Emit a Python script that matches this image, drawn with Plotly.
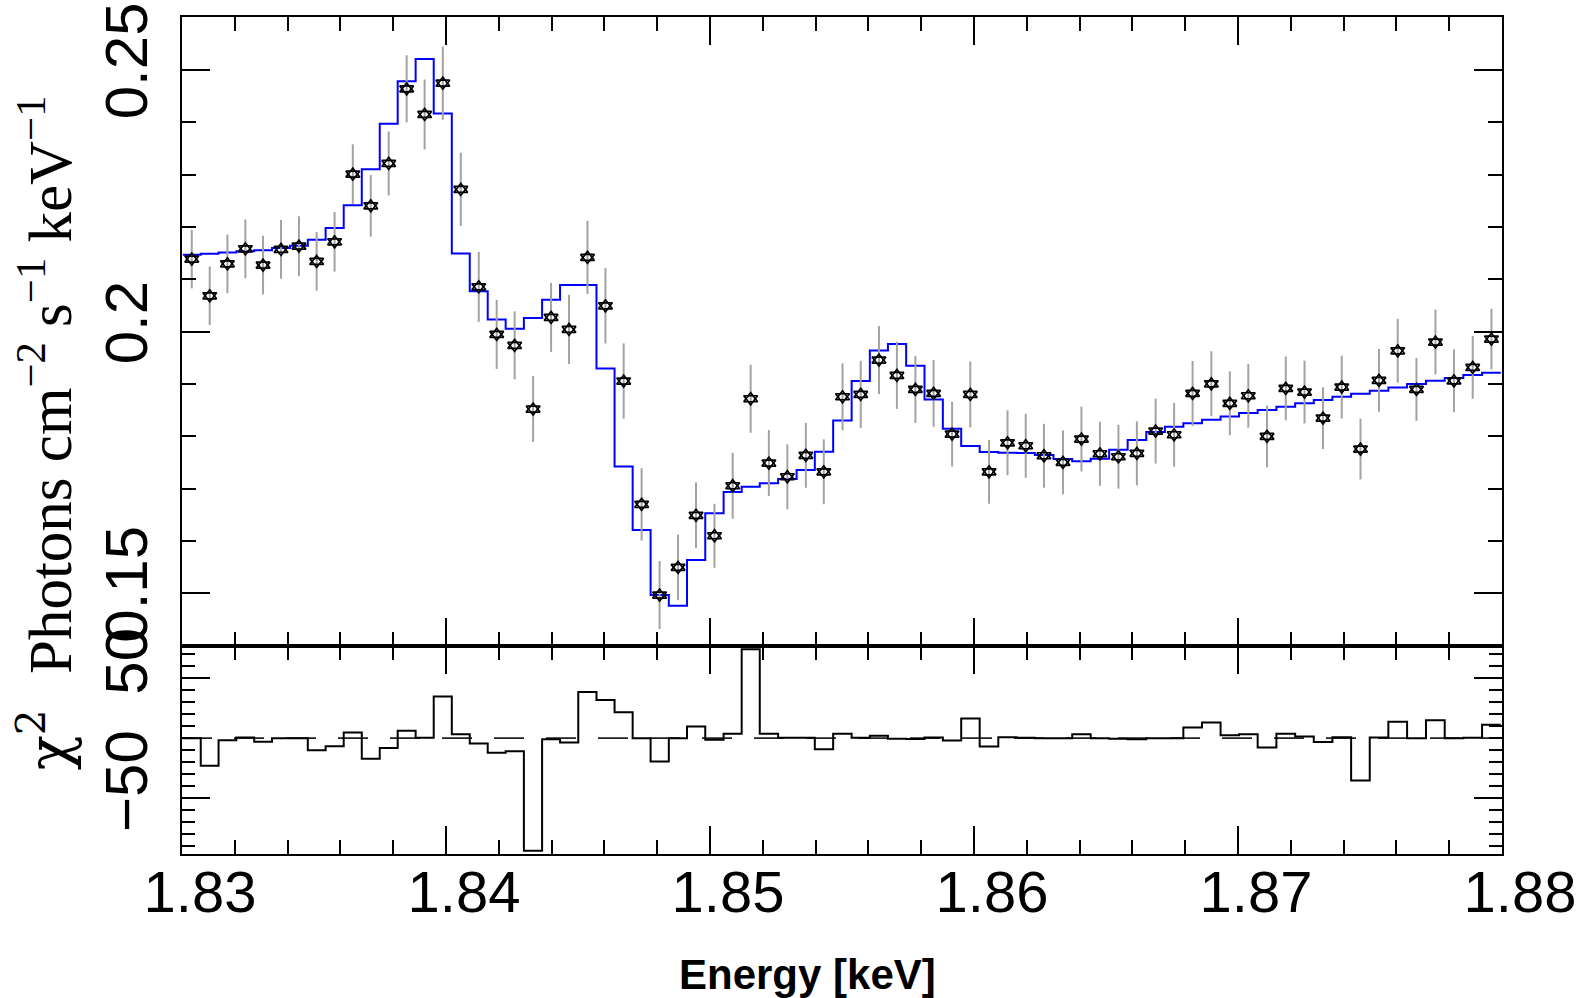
import plotly.graph_objects as go

# ---------------- data ----------------
energy = [
    1.83037, 1.83105, 1.83172, 1.83240, 1.83307, 1.83375, 1.83443, 1.83510, 1.83578, 1.83647,
    1.83715, 1.83783, 1.83851, 1.83919, 1.83988, 1.84056, 1.84124, 1.84192, 1.84260, 1.84330,
    1.84398, 1.84466, 1.84536, 1.84604, 1.84673, 1.84741, 1.84809, 1.84879, 1.84947, 1.85017,
    1.85086, 1.85154, 1.85223, 1.85293, 1.85363, 1.85431, 1.85502, 1.85571, 1.85640, 1.85708,
    1.85778, 1.85847, 1.85917, 1.85986, 1.86057, 1.86127, 1.86196, 1.86265, 1.86337, 1.86407,
    1.86477, 1.86547, 1.86617, 1.86688, 1.86758, 1.86828, 1.86899, 1.86969, 1.87039, 1.87110,
    1.87181, 1.87252, 1.87322, 1.87393, 1.87464, 1.87534, 1.87605, 1.87676, 1.87748, 1.87818,
    1.87889, 1.87960,
]

flux = [
    0.21385, 0.20684, 0.21295, 0.21581, 0.21270, 0.21570, 0.21633, 0.21341, 0.21715, 0.23008,
    0.22403, 0.23212, 0.24637, 0.24148, 0.24746, 0.22716, 0.20856, 0.19947, 0.19736, 0.18520,
    0.20271, 0.20042, 0.21417, 0.20493, 0.19055, 0.16700, 0.14967, 0.15496, 0.16490, 0.16100,
    0.17055, 0.18717, 0.17488, 0.17227, 0.17636, 0.17322, 0.18755, 0.18800, 0.19456, 0.19163,
    0.18896, 0.18820, 0.18042, 0.18800, 0.17322, 0.17876, 0.17819, 0.17628, 0.17502, 0.17947,
    0.17666, 0.17609, 0.17674, 0.18100, 0.18029, 0.18820, 0.19003, 0.18629, 0.18774, 0.17998,
    0.18915, 0.18845, 0.18348, 0.18940, 0.17756, 0.19068, 0.19633, 0.18896, 0.19800, 0.19060,
    0.19316, 0.19857,
]

flux_err = [
    0.0056, 0.0056, 0.0056, 0.0056, 0.0056, 0.0056, 0.0057, 0.0056, 0.0057, 0.0057,
    0.0059, 0.0061, 0.0064, 0.0067, 0.0070, 0.0070, 0.0067, 0.0066, 0.0065, 0.0063,
    0.0066, 0.0066, 0.0070, 0.0072, 0.0072, 0.0069, 0.0065, 0.0063, 0.0063, 0.0061,
    0.0063, 0.0065, 0.0063, 0.0062, 0.0062, 0.0062, 0.0064, 0.0064, 0.0065, 0.0064,
    0.0064, 0.0064, 0.0062, 0.0063, 0.0061, 0.0062, 0.0061, 0.0061, 0.0061, 0.0062,
    0.0061, 0.0061, 0.0061, 0.0062, 0.0061, 0.0062, 0.0062, 0.0061, 0.0061, 0.0059,
    0.0061, 0.0060, 0.0059, 0.0060, 0.0058, 0.0060, 0.0061, 0.0060, 0.0062, 0.0060,
    0.0060, 0.0058,
]

model = [
    0.21467, 0.21486, 0.21513, 0.21537, 0.21556, 0.21595, 0.21639, 0.21753, 0.21977, 0.22416,
    0.23103, 0.23969, 0.24784, 0.25210, 0.24167, 0.21493, 0.20773, 0.20233, 0.20053, 0.20258,
    0.20607, 0.20888, 0.20888, 0.19297, 0.17425, 0.16209, 0.14967, 0.14763, 0.15636, 0.16528,
    0.16935, 0.17036, 0.17101, 0.17183, 0.17355, 0.17704, 0.18304, 0.19055, 0.19641, 0.19761,
    0.19347, 0.18705, 0.18144, 0.17813, 0.17699, 0.17685, 0.17680, 0.17641, 0.17565, 0.17521,
    0.17571, 0.17743, 0.17928, 0.18081, 0.18182, 0.18247, 0.18315, 0.18380, 0.18443, 0.18501,
    0.18564, 0.18629, 0.18692, 0.18755, 0.18812, 0.18869, 0.18934, 0.18997, 0.19060, 0.19112,
    0.19169, 0.19213,
]

chi_resid = [
    0.0, -23.1, -1.7, 0.5, -3.1, 0.0, 0.0, -10.0, -6.7, 4.7,
    -17.2, -8.3, 6.1, 0.3, 34.7, 3.3, -4.4, -12.2, -10.9, -93.9,
    -0.9, -3.6, 38.6, 31.9, 21.7, 0.0, -19.4, 0.0, 9.7, -1.4,
    3.6, 74.2, 3.6, 0.3, 0.3, -9.2, 3.6, 0.3, 2.0, -0.6,
    -0.8, 0.5, -2.0, 16.4, -7.0, 0.8, 0.3, 0.0, 0.0, 3.3,
    0.0, -0.6, -1.0, 0.0, 0.0, 8.9, 13.0, 2.5, 3.3, -7.8,
    3.6, 1.4, -3.3, 0.8, -35.3, 0.5, 13.6, 0.0, 15.0, 0.0,
    0.3, 11.1,
]

x_ticks = [1.83, 1.84, 1.85, 1.86, 1.87, 1.88]
y_ticks = [0.15, 0.2, 0.25]
r_ticks = [-50, 50]

# bin edges derived from the bin centres (for the step histograms)
edges = [energy[0] - (energy[1] - energy[0]) / 2]
edges += [(a + b) / 2 for a, b in zip(energy[:-1], energy[1:])]
edges += [energy[-1] + (energy[-1] - energy[-2]) / 2]
model_step = model + [model[-1]]
resid_step = chi_resid + [chi_resid[-1]]

# ---------------- figure ----------------
fig = go.Figure()

fig.add_trace(go.Scatter(
    x=edges, y=model_step, mode="lines", line_shape="hv",
    line=dict(color="#0000ff", width=2), xaxis="x", yaxis="y", hoverinfo="skip",
))
fig.add_trace(go.Scatter(
    x=energy, y=flux, mode="markers",
    marker=dict(symbol="triangle-up-open", size=12, color="black", line=dict(width=1.7, color="black")),
    error_y=dict(type="data", array=flux_err, color="#a3a3a3", thickness=2, width=0),
    xaxis="x", yaxis="y",
))
fig.add_trace(go.Scatter(
    x=energy, y=flux, mode="markers",
    marker=dict(symbol="triangle-down-open", size=12, color="black", line=dict(width=1.7, color="black")),
    xaxis="x", yaxis="y",
))
fig.add_trace(go.Scatter(
    x=edges, y=resid_step, mode="lines", line_shape="hv",
    line=dict(color="black", width=2), xaxis="x2", yaxis="y2", hoverinfo="skip",
))

split = 0.2489
tick_font = dict(family="Liberation Sans, Arial, sans-serif", size=60, color="black")
common_x = dict(
    range=[1.83, 1.88], showline=True, linecolor="black", linewidth=2, mirror="ticks",
    ticks="inside", ticklen=28, tickwidth=1.5, tickcolor="black",
    tick0=1.83, dtick=0.01, showgrid=False, zeroline=False, automargin=False,
    minor=dict(ticks="inside", ticklen=14, tickwidth=1.5, tickcolor="black", dtick=0.002, tick0=1.83, showgrid=False),
)

fig.update_layout(
    width=1587, height=998,
    margin=dict(l=182, r=85, t=17, b=144, autoexpand=False),
    paper_bgcolor="white", plot_bgcolor="white",
    showlegend=False,
    xaxis=dict(common_x, anchor="y", domain=[0, 1], showticklabels=False, matches="x2"),
    xaxis2=dict(common_x, anchor="y2", domain=[0, 1], showticklabels=True,
                tickvals=x_ticks, ticktext=[f"{v:.2f}" for v in x_ticks],
                tickfont=dict(family="Liberation Sans, Arial, sans-serif", size=58, color="black"),
                ticklabelstandoff=-14, ticklabelshift=18),
    yaxis=dict(
        domain=[split, 1], anchor="x", range=[0.1400, 0.2601], automargin=False,
        showline=True, linecolor="black", linewidth=2, mirror="ticks",
        ticks="inside", ticklen=28, tickwidth=1.5, tickcolor="black",
        tickvals=y_ticks, ticktext=["0.15", "0.2", "0.25"],
        tickangle=-90, tickfont=tick_font, ticklabelstandoff=9,
        showgrid=False, zeroline=False,
        minor=dict(ticks="inside", ticklen=14, tickwidth=1.5, tickcolor="black", dtick=0.01, tick0=0.14, showgrid=False),
    ),
    yaxis2=dict(
        domain=[0, split], anchor="x2", range=[-96.7, 77.2], automargin=False,
        showline=True, linecolor="black", linewidth=2, mirror="ticks",
        ticks="inside", ticklen=28, tickwidth=1.5, tickcolor="black",
        tickvals=r_ticks, ticktext=["\u221250", "50"],
        tickangle=-90, tickfont=tick_font, ticklabelstandoff=9, ticklabelshift=-8,
        showgrid=False, zeroline=False,
        minor=dict(ticks="inside", ticklen=13, tickwidth=1.5, tickcolor="black", dtick=10, tick0=0, showgrid=False),
    ),
    shapes=[dict(
        type="line", xref="x2 domain", x0=0, x1=1, yref="y2", y0=0, y1=0,
        line=dict(color="#222222", width=1.8, dash="30px,22px"), layer="below",
    )],
    annotations=[
        dict(text="Photons cm<sup>\u22122</sup> s<sup>\u22121</sup> keV<sup>\u22121</sup>",
             xref="paper", yref="paper", x=-0.1038, y=0.5615, showarrow=False,
             textangle=-90, xanchor="center", yanchor="middle",
             font=dict(family="Liberation Serif, Times New Roman, serif", size=61, color="black")),
        dict(text="\u03c7<sup>2</sup>",
             xref="paper", yref="paper", x=-0.1038, y=0.1370, showarrow=False,
             textangle=-90, xanchor="center", yanchor="middle",
             font=dict(family="DejaVu Serif, Liberation Serif, serif", size=58, color="black")),
        dict(text="<b>Energy [keV]</b>",
             xref="paper", yref="paper", x=0.4735, y=-0.1434, showarrow=False,
             xanchor="center", yanchor="middle",
             font=dict(family="Liberation Sans, Arial, sans-serif", size=42, color="black")),
    ],
)

fig.write_html("out.html")
